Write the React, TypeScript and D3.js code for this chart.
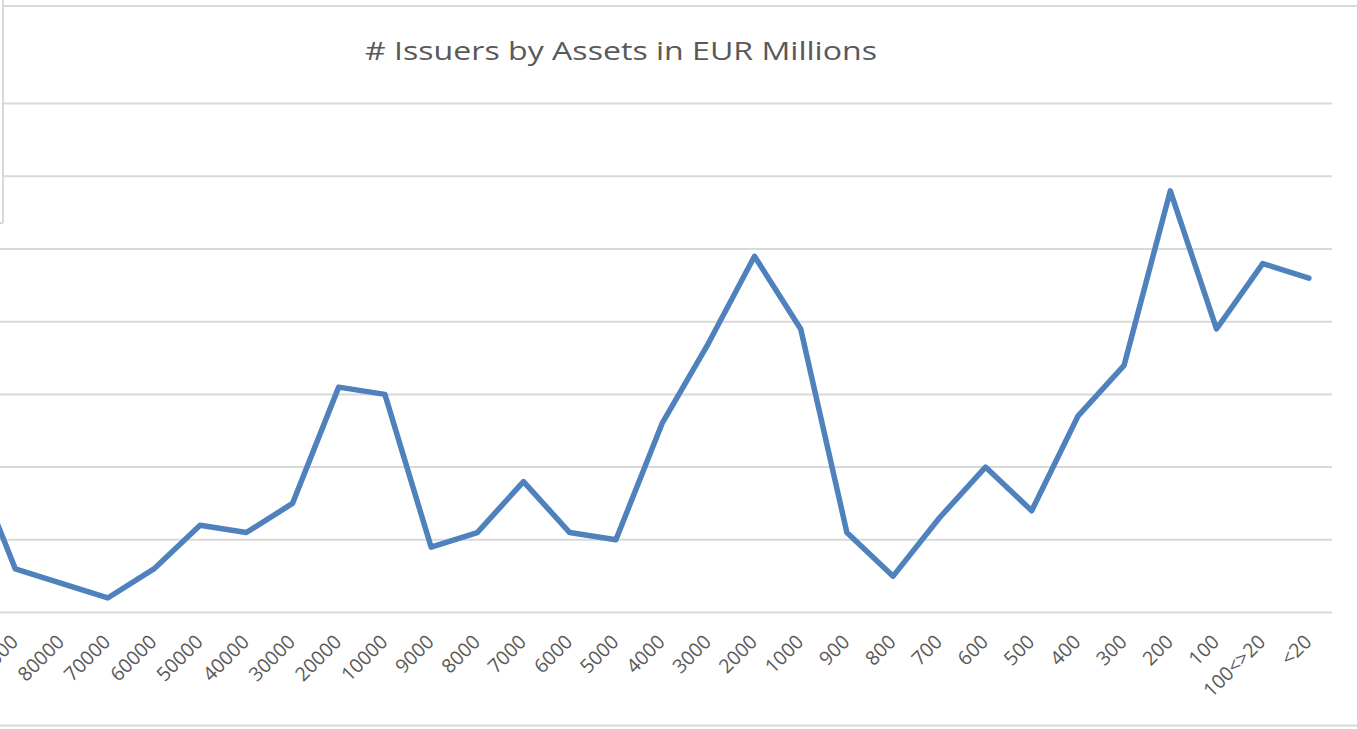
import React from "react";
import * as d3 from "d3";

const categories = [
  "100000", "90000", "80000", "70000", "60000", "50000", "40000", "30000", "20000", "10000",
  "9000", "8000", "7000", "6000", "5000", "4000", "3000", "2000", "1000",
  "900", "800", "700", "600", "500", "400", "300", "200", "100", "100<>20", "<20",
];
const issuers = [
  22, 6, 4, 2, 6, 12, 11, 15, 31, 30,
  9, 11, 18, 11, 10, 26, 37, 49, 39,
  11, 5, 13, 20, 14, 27, 34, 58, 39, 48, 46,
];
const yTicks = [0, 10, 20, 30, 40, 50, 60, 70];
const title = "# Issuers by Assets in EUR Millions";

const W = 1357;
const H = 729;
const GRID = "#d9d9d9";
const TEXT = "#595959";
const LINE = "#4f81bd";

export default function App() {
  const x = d3.scalePoint<string>().domain(categories).range([-54, 1332]).padding(0.5);
  const y = d3.scaleLinear().domain([0, 70]).range([612.5, 103.6]);
  const line = d3
    .line<number>()
    .x((_, i) => x(categories[i]) as number)
    .y((d) => y(d));

  return (
    <div style={{ position: "absolute", left: 0, top: 0 }}>
      <svg width={W} height={H} style={{ display: "block", background: "#fff" }}>
        <rect x={0} y={0} width={W} height={H} fill="#fff" />
        {/* chart border top & bottom */}
        <line x1={3} x2={W} y1={6} y2={6} stroke={GRID} strokeWidth={2} />
        <line x1={0} x2={W} y1={725.5} y2={725.5} stroke={GRID} strokeWidth={2} />
        {/* gridlines */}
        {yTicks.map((t) => (
          <line key={t} x1={-54} x2={1332} y1={y(t)} y2={y(t)} stroke={GRID} strokeWidth={2} />
        ))}
        {/* overlay box at top-left */}
        <rect x={0} y={0} width={3} height={223} fill="#fff" />
        <line x1={3} x2={3} y1={0} y2={223} stroke={GRID} strokeWidth={2} />
        <line x1={0} x2={3} y1={223} y2={223} stroke={GRID} strokeWidth={2} />
        {/* title */}
        <text
          x={621}
          y={60}
          textAnchor="middle"
          fontFamily="'Open Sans', 'DejaVu Sans', sans-serif"
          fontSize={26}
          fill={TEXT}
          textLength={512}
          lengthAdjust="spacingAndGlyphs"
        >
          {title}
        </text>
        {/* line */}
        <path
          d={line(issuers) || ""}
          fill="none"
          stroke={LINE}
          strokeWidth={5.5}
          strokeLinejoin="round"
          strokeLinecap="round"
        />
        {/* category labels */}
        {categories.map((c) => {
          const px = (x(c) as number) + 4;
          const py = 643;
          return (
            <text
              key={c}
              x={px}
              y={py}
              transform={`rotate(-45 ${px} ${py})`}
              textAnchor="end"
              fontFamily="'Open Sans', 'DejaVu Sans', sans-serif"
              fontSize={19.5}
              fill={TEXT}
            >
              {c}
            </text>
          );
        })}
      </svg>
    </div>
  );
}
